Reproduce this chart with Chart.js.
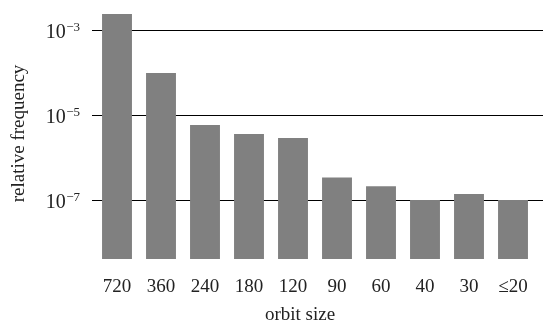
<!DOCTYPE html>
<html>
<head>
<meta charset="utf-8">
<script src="https://cdn.jsdelivr.net/npm/chart.js@4/dist/chart.umd.min.js"></script>
<style>
  html, body { margin: 0; padding: 0; background: #fff; }
  #wrap { width: 550px; height: 328px; }
</style>
</head>
<body>
<div id="wrap"><canvas id="chart"></canvas></div>
<script>
  // orbit sizes and their relative frequency
  const orbitSizes = ["720", "360", "240", "180", "120", "90", "60", "40", "30", "≤20"];
  const relFreq = [2.4e-3, 9.8e-5, 5.8e-6, 3.6e-6, 2.9e-6, 3.4e-7, 2.1e-7, 1.0e-7, 1.38e-7, 1.0e-7];
  const yTickValues = [1e-3, 1e-5, 1e-7];
  const yTickExp = ["−3", "−5", "−7"];

  const FONT = "'Liberation Serif', 'DejaVu Serif', serif";
  const TEXT = "#222";

  // rules behind the bars, powers of ten as labels, x title
  const axisPlugin = {
    id: "axisDecor",
    beforeDatasetsDraw(chart) {
      const y = chart.scales.y;
      const area = chart.chartArea;
      const ctx = chart.ctx;
      ctx.save();
      ctx.strokeStyle = "#000";
      ctx.lineWidth = 1.2;
      yTickValues.forEach(function (v) {
        const py = Math.round(y.getPixelForValue(v)) + 0.5;
        ctx.beginPath();
        ctx.moveTo(area.left - 3, py);
        ctx.lineTo(area.right + 8, py);
        ctx.stroke();
      });
      ctx.restore();
    },
    afterDraw(chart) {
      const y = chart.scales.y;
      const area = chart.chartArea;
      const ctx = chart.ctx;
      ctx.save();
      ctx.fillStyle = TEXT;
      ctx.textBaseline = "alphabetic";
      ctx.textAlign = "right";
      const right = area.left - 15;
      yTickValues.forEach(function (v, i) {
        const py = y.getPixelForValue(v);
        ctx.font = "13px " + FONT;
        const w = ctx.measureText(yTickExp[i]).width;
        ctx.fillText(yTickExp[i], right, py + 1);
        ctx.font = "20px " + FONT;
        ctx.fillText("10", right - w - 0.5, py + 8);
      });
      ctx.font = "19px " + FONT;
      ctx.textAlign = "center";
      ctx.fillText("orbit size", 300, 320);
      ctx.restore();
    },
  };

  new Chart(document.getElementById("chart"), {
    type: "bar",
    data: {
      labels: orbitSizes,
      datasets: [
        {
          data: relFreq,
          backgroundColor: "#808080",
          borderWidth: 0,
          barPercentage: 0.68,
          categoryPercentage: 1.0,
        },
      ],
    },
    options: {
      responsive: true,
      maintainAspectRatio: false,
      animation: false,
      layout: { padding: { top: 8, right: 15, left: 0, bottom: 0 } },
      plugins: {
        legend: { display: false },
        tooltip: { enabled: false },
      },
      scales: {
        x: {
          grid: { display: false },
          border: { display: false },
          ticks: {
            color: TEXT,
            font: { family: FONT, size: 19 },
            padding: 9,
            maxRotation: 0,
          },
          afterFit(scale) {
            scale.height = 69;
            scale.paddingLeft = 0;
            scale.paddingRight = 0;
          },
        },
        y: {
          type: "logarithmic",
          min: 4.1e-9,
          max: 3.3e-3,
          grid: { display: false },
          border: { display: false },
          afterBuildTicks(scale) {
            scale.ticks = yTickValues.map((v) => ({ value: v }));
          },
          ticks: { display: false },
          title: {
            display: true,
            text: "relative frequency",
            color: TEXT,
            font: { family: FONT, size: 19 },
            padding: { top: 8, bottom: 0 },
          },
          afterFit(scale) {
            scale.width = 95;
            scale.paddingTop = 0;
            scale.paddingBottom = 0;
          },
        },
      },
    },
    plugins: [axisPlugin],
  });
</script>
</body>
</html>
